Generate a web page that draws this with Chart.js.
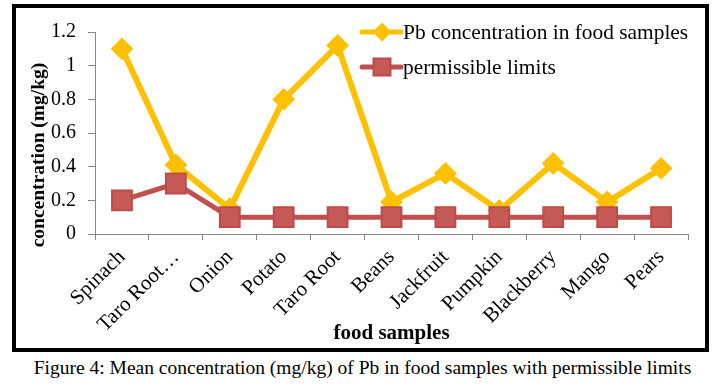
<!DOCTYPE html>
<html>
<head>
<meta charset="utf-8">
<script src="https://cdn.jsdelivr.net/npm/chart.js@4.4.0/dist/chart.umd.min.js"></script>
<style>
  body { margin: 0; background: #fff; width: 725px; height: 387px; position: relative; overflow: hidden; }
  #box { position: absolute; left: 12px; top: 4px; width: 697px; height: 348px; border: 4px solid #000; box-sizing: border-box; }
  #caption { position: absolute; left: 0; width: 725px; top: 357px; text-align: center; font: 19.5px "Liberation Serif", serif; color: #000; }
</style>
</head>
<body>
<div id="box"><canvas id="chart"></canvas></div>
<div id="caption">Figure 4: Mean concentration (mg/kg) of Pb in food samples with permissible limits</div>
<script>
// data
const categories = ['Spinach', 'Taro Root\u2026', 'Onion', 'Potato', 'Taro Root', 'Beans', 'Jackfruit', 'Pumpkin', 'Blackberry', 'Mango', 'Pears'];
const pbValues = [1.1, 0.41, 0.15, 0.8, 1.12, 0.19, 0.36, 0.14, 0.42, 0.19, 0.39];
const limitValues = [0.2, 0.3, 0.1, 0.1, 0.1, 0.1, 0.1, 0.1, 0.1, 0.1, 0.1];
const yTicks = [0, 0.2, 0.4, 0.6, 0.8, 1, 1.2];
const yTitle = 'concentration (mg/kg)';

const serif = '"Liberation Serif", "Times New Roman", serif';

// y title (sits a bit below the axis centre in the original) and the stacked legend
const extras = {
  id: 'extras',
  afterDraw(chart) {
    const ctx = chart.ctx;
    ctx.save();
    ctx.translate(23, 147);
    ctx.rotate(-Math.PI / 2);
    ctx.fillStyle = '#000';
    ctx.font = 'bold 19.5px ' + serif;
    ctx.textAlign = 'center';
    ctx.textBaseline = 'middle';
    ctx.fillText(yTitle, 0, 0);
    ctx.restore();

    const rows = [24, 59];
    const markerRadius = [8, 12];
    chart.data.datasets.forEach((ds, i) => {
      const y = rows[i];
      ctx.save();
      ctx.strokeStyle = ds.borderColor;
      ctx.lineWidth = 5;
      ctx.lineCap = 'round';
      ctx.beginPath();
      ctx.moveTo(346, y);
      ctx.lineTo(385, y);
      ctx.stroke();
      ctx.fillStyle = ds.pointBackgroundColor;
      ctx.strokeStyle = ds.pointBorderColor;
      ctx.lineWidth = ds.pointBorderWidth;
      Chart.helpers.drawPoint(ctx, {
        pointStyle: ds.pointStyle,
        radius: markerRadius[i],
        borderWidth: ds.pointBorderWidth
      }, 366, y);
      ctx.fillStyle = '#000';
      ctx.font = '21.4px ' + serif;
      ctx.textBaseline = 'middle';
      ctx.fillText(ds.label, 387, y + 1);
      ctx.restore();
    });
  }
};

const ctx = document.getElementById('chart').getContext('2d');
new Chart(ctx, {
  type: 'line',
  data: {
    labels: categories,
    datasets: [
      {
        label: 'Pb concentration in food samples',
        data: pbValues,
        order: 1,
        borderColor: '#FFC000',
        borderWidth: 6,
        pointStyle: 'rectRot',
        pointRadius: 10,
        pointBackgroundColor: '#FFC000',
        pointBorderColor: '#FFC000',
        pointBorderWidth: 2,
        tension: 0
      },
      {
        label: 'permissible limits',
        data: limitValues,
        order: 0,
        borderColor: '#C0504D',
        borderWidth: 5,
        pointStyle: 'rect',
        pointRadius: 14,
        pointBackgroundColor: '#C55A57',
        pointBorderColor: '#BE4B48',
        pointBorderWidth: 2,
        tension: 0
      }
    ]
  },
  options: {
    responsive: true,
    maintainAspectRatio: false,
    animation: false,
    layout: { padding: { left: 14, right: 17, top: 21, bottom: 2 } },
    plugins: {
      legend: { display: false },
      tooltip: { enabled: false }
    },
    scales: {
      x: {
        offset: true,
        grid: { offset: true, drawOnChartArea: false, drawTicks: true, tickLength: 6, color: '#868686' },
        border: { color: '#868686', width: 1 },
        ticks: { color: '#000', font: { family: serif, size: 21 }, minRotation: 45, maxRotation: 45, padding: 5, autoSkip: false },
        title: { display: true, text: 'food samples', color: '#000', font: { family: serif, size: 21, weight: 'bold' }, padding: { top: 0, bottom: 0 } },
        afterFit(scale) { scale.height = 112; }
      },
      y: {
        min: 0,
        max: 1.2,
        afterBuildTicks(scale) { scale.ticks = yTicks.map(v => ({ value: v })); },
        grid: { drawOnChartArea: false, drawTicks: true, tickLength: 7, color: '#868686' },
        border: { color: '#868686', width: 1 },
        ticks: { color: '#000', font: { family: serif, size: 20 }, padding: 12, callback: v => String(v) },
        afterFit(scale) { scale.width = 65; }
      }
    }
  },
  plugins: [extras]
});
</script>
</body>
</html>
